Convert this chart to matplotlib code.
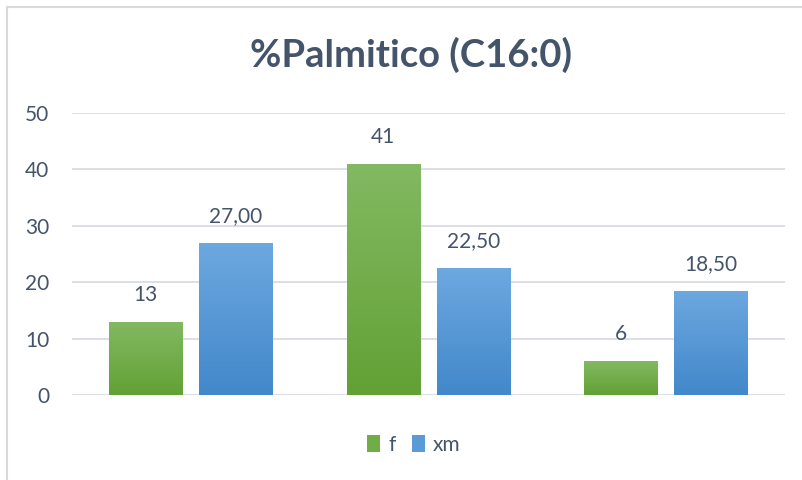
import matplotlib.pyplot as plt
from matplotlib.colors import LinearSegmentedColormap
from matplotlib.patches import Rectangle, Patch
import numpy as np

f_values = [13, 41, 6]
xm_values = [27.00, 22.50, 18.50]
f_labels = ["13", "41", "6"]
xm_labels = ["27,00", "22,50", "18,50"]
y_ticks = [0, 10, 20, 30, 40, 50]

text_color = "#44546A"
grid_color = "#D9DDE3"
plt.rcParams['font.family'] = ['Lato', 'DejaVu Sans']

fig = plt.figure(figsize=(8.03, 4.80), dpi=100)
ax = fig.add_axes([72 / 803, 85 / 480, 713 / 803, 282 / 480])

# chart border (top/left visible, rest runs off the image)
fig.patches.append(Rectangle((7 / 803, -0.05), 1.0, (473 / 480) + 0.05,
                             transform=fig.transFigure, fill=False,
                             edgecolor="#D9D9D9", linewidth=1.5))

x = np.arange(len(f_values))
w = 0.31
off = 0.19

green = LinearSegmentedColormap.from_list("g", ["#62A135", "#83B962"])
blue = LinearSegmentedColormap.from_list("b", ["#4288CA", "#6DA8E0"])

bars_f = ax.bar(x - off, f_values, w, color="#70AD47", zorder=2)
bars_xm = ax.bar(x + off, xm_values, w, color="#5B9BD5", zorder=2)

grad = np.linspace(0, 1, 256).reshape(-1, 1)
for bars, cmap in ((bars_f, green), (bars_xm, blue)):
    for b in bars:
        x0, h = b.get_x(), b.get_height()
        im = ax.imshow(grad, cmap=cmap, origin="lower", aspect="auto",
                       extent=[x0, x0 + b.get_width(), 0, h], zorder=3)
        im.set_clip_path(b)

for bars, labels in ((bars_f, f_labels), (bars_xm, xm_labels)):
    for b, lab in zip(bars, labels):
        ax.text(b.get_x() + b.get_width() / 2, b.get_height() + 3.0, lab,
                ha="center", va="bottom", fontsize=15, color=text_color)

ax.set_xlim(-0.5, 2.5)
ax.set_ylim(0, 50)
ax.set_yticks(y_ticks)
ax.set_xticks([])
ax.tick_params(axis="y", length=0, pad=16.5, labelsize=15, labelcolor=text_color)
ax.grid(axis="y", color=grid_color, linewidth=1.3, zorder=0)
for s in ax.spines.values():
    s.set_visible(False)

fig.text(411 / 803, 1 - 55 / 480, "%Palmitico (C16:0)", ha="center", va="center",
         fontsize=27.5, fontweight="bold", color=text_color)

# legend
handles = [Patch(facecolor="#70AD47", label="f"), Patch(facecolor="#5B9BD5", label="xm")]
fig.legend(handles=handles, loc="center", bbox_to_anchor=(414 / 803, 1 - 445 / 480),
           ncol=2, frameon=False, fontsize=15, labelcolor=text_color,
           handlelength=0.6, handleheight=0.9, handletextpad=0.4, columnspacing=0.8)

fig.savefig("out.png", dpi=100)
